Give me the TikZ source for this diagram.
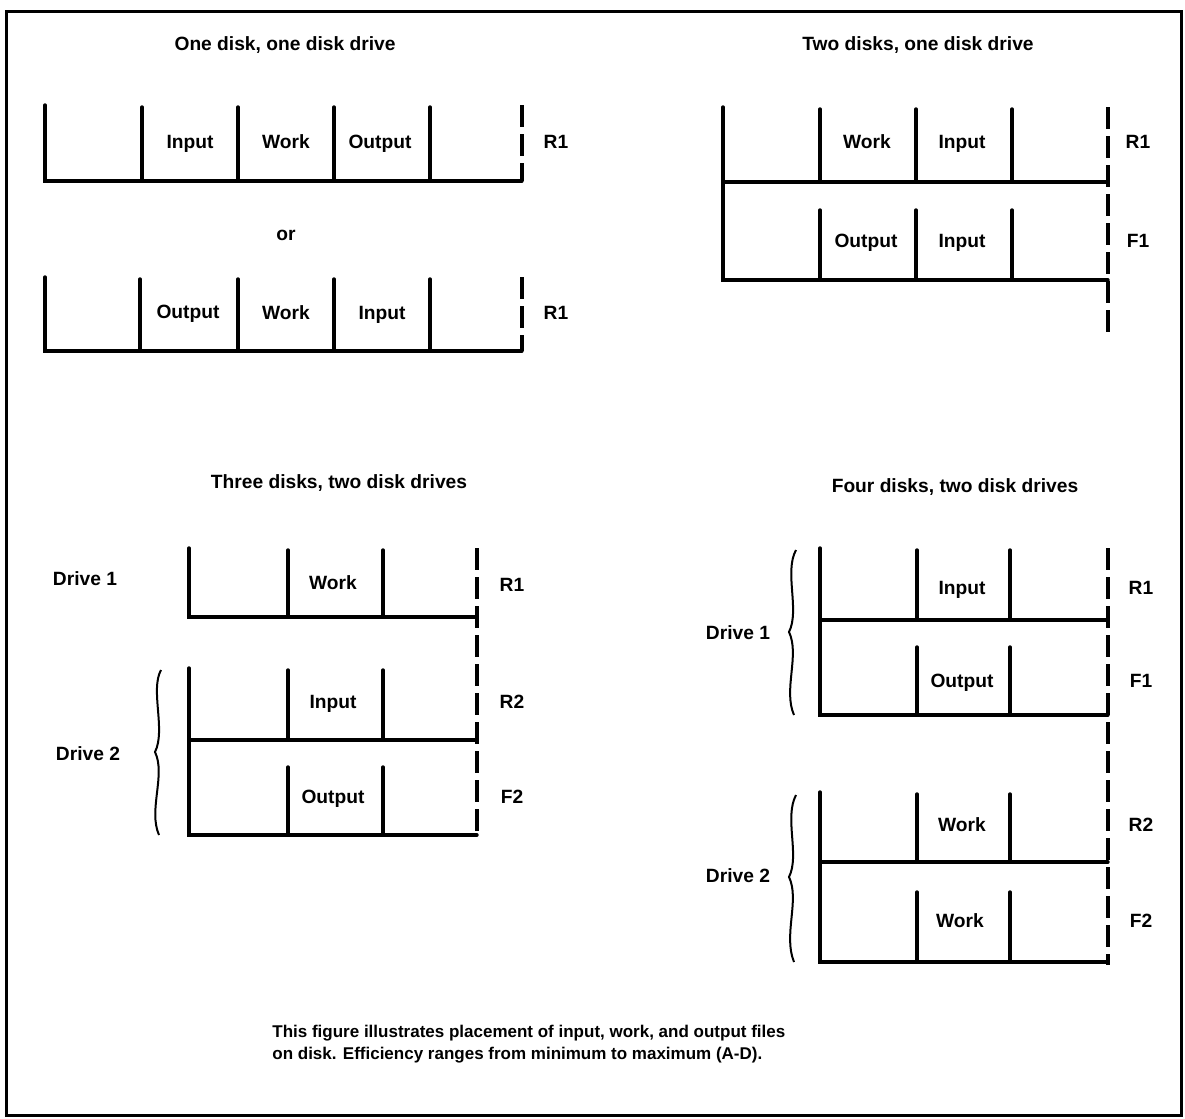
\documentclass[tikz,border=0pt]{standalone}
\usepackage{fontspec}
\setmainfont{Liberation Sans}
\begin{document}
\begin{tikzpicture}[x=0.5pt,y=-0.5pt,
  lbl/.style={font=\fontsize{9.6}{11}\selectfont\bfseries, inner sep=0pt, text height=7pt, text depth=2pt},
  wall/.style={line width=1.7pt, line cap=round, line join=miter},
  dashwall/.style={line width=1.7pt, dash pattern=on 11pt off 3.5pt},
  frame/.style={line width=1.5pt},
  bracestyle/.style={line width=1pt}]
\useasboundingbox (0,0) rectangle (1185,1119);
\draw[frame] (6,11) rectangle (1181,1115);

% ---------- Panel 1: one disk, one disk drive ----------
\node[lbl] (t1) at (285,45) {One disk, one disk drive};
% bar A
\draw[wall] (45,105) -- (45,181) -- (522,181);
\foreach \x in {142,238,334,430} \draw[wall] (\x,107) -- (\x,181);
\draw[dashwall] (522,105) -- (522,181);
\node[lbl] (a1) at (190,143) {Input};
\node[lbl] (a2) at (286,143) {Work};
\node[lbl] (a3) at (380,143) {Output};
\node[lbl] (a4) at (556,143) {R1};
\node[lbl] (or) at (286,235) {or};
% bar B
\draw[wall] (45,277) -- (45,351) -- (522,351);
\foreach \x in {140,238,334,430} \draw[wall] (\x,279) -- (\x,351);
\draw[dashwall] (522,277) -- (522,351);
\node[lbl] (b1) at (188,313) {Output};
\node[lbl] (b2) at (286,314) {Work};
\node[lbl] (b3) at (382,314) {Input};
\node[lbl] (b4) at (556,314) {R1};

% ---------- Panel 2: two disks, one disk drive ----------
\node[lbl] (t2) at (918,45) {Two disks, one disk drive};
\draw[wall] (723,107) -- (723,280) -- (1108,280);
\draw[wall] (723,182) -- (1108,182);
\foreach \x in {820,916,1012} {
  \draw[wall] (\x,109) -- (\x,182);
  \draw[wall] (\x,210) -- (\x,280);
}
\draw[dashwall] (1108,107) -- (1108,335);
\node[lbl] (c1) at (867,143) {Work};
\node[lbl] (c2) at (962,143) {Input};
\node[lbl] (c3) at (1138,143) {R1};
\node[lbl] (c4) at (866,242) {Output};
\node[lbl] (c5) at (962,242) {Input};
\node[lbl] (c6) at (1138,242) {F1};

% ---------- Panel 3: three disks, two disk drives ----------
\node[lbl] (t3) at (339,483) {Three disks, two disk drives};
\draw[wall] (189,548) -- (189,617) -- (477,617);
\foreach \x in {288,383} \draw[wall] (\x,550) -- (\x,617);
\draw[dashwall] (477,548) -- (477,835);
\draw[wall] (189,668) -- (189,835) -- (477,835);
\draw[wall] (189,740) -- (477,740);
\foreach \x in {288,383} {
  \draw[wall] (\x,670) -- (\x,740);
  \draw[wall] (\x,767) -- (\x,835);
}
\node[lbl] (d1) at (333,584) {Work};
\node[lbl] (d2) at (512,586) {R1};
\node[lbl] (d3) at (333,703) {Input};
\node[lbl] (d4) at (512,703) {R2};
\node[lbl] (d5) at (333,798) {Output};
\node[lbl] (d6) at (512,798) {F2};
\node[lbl] (dr1) at (85,580) {Drive 1};
\node[lbl] (dr2) at (88,755) {Drive 2};
\draw[bracestyle] (161,670) .. controls (150,690) and (166,730) .. (155,752)
                 .. controls (166,775) and (148,810) .. (159,835);

% ---------- Panel 4: four disks, two disk drives ----------
\node[lbl] (t4) at (955,487) {Four disks, two disk drives};
\draw[wall] (820,548) -- (820,715) -- (1108,715);
\draw[wall] (820,620) -- (1108,620);
\foreach \x in {917,1010} {
  \draw[wall] (\x,550) -- (\x,620);
  \draw[wall] (\x,647) -- (\x,715);
}
\draw[dashwall] (1108,548) -- (1108,965);
\draw[wall] (820,792) -- (820,962) -- (1108,962);
\draw[wall] (820,862) -- (1108,862);
\foreach \x in {917,1010} {
  \draw[wall] (\x,794) -- (\x,862);
  \draw[wall] (\x,892) -- (\x,962);
}
\node[lbl] (e1) at (962,589) {Input};
\node[lbl] (e2) at (1141,589) {R1};
\node[lbl] (e3) at (962,682) {Output};
\node[lbl] (e4) at (1141,682) {F1};
\node[lbl] (e5) at (962,826) {Work};
\node[lbl] (e6) at (1141,826) {R2};
\node[lbl] (e7) at (960,922) {Work};
\node[lbl] (e8) at (1141,922) {F2};
\node[lbl] (dr3) at (738,634) {Drive 1};
\node[lbl] (dr4) at (738,877) {Drive 2};
\draw[bracestyle] (796,550) .. controls (784,572) and (800,610) .. (789,632)
                 .. controls (800,655) and (783,690) .. (794,715);
\draw[bracestyle] (796,795) .. controls (784,818) and (800,855) .. (789,877)
                 .. controls (800,900) and (783,935) .. (794,962);

% ---------- caption ----------
\node[anchor=west, align=left, inner sep=0pt, font=\fontsize{8.5}{11}\selectfont\bfseries] (cap) at (272,1044)
  {This figure illustrates placement of input, work, and output files\\
   on disk. Efficiency ranges from minimum to maximum (A-D).};
\end{tikzpicture}
\end{document}
